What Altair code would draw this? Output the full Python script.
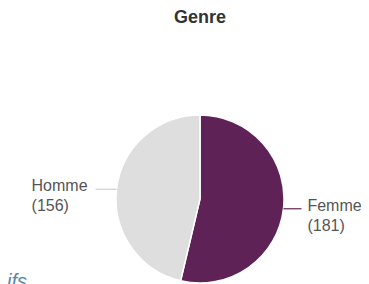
import math
import altair as alt
import pandas as pd

# ---- data ----
genres = ["Femme", "Homme"]
counts = [181, 156]
colors = ["#5e2256", "#dedede"]
line_colors = ["#5e2256", "#cfcfcf"]
title_text = "Genre"
fragment_text = "Effectifs"

# ---- layout ----
W, H = 353, 276
CX, CY, R = 192, 191, 84
EXT = {1: 18, -1: 21}   # leader line length per side
GAP = {1: 6, -1: 8}     # gap between line and text per side
TEXT_W = 56             # approx label width

total = sum(counts)
rows = []
cum = 0
for i, (g, c) in enumerate(zip(genres, counts)):
    mid = (cum + c / 2) / total * 2 * math.pi
    cum += c
    sx = CX + R * math.sin(mid)
    sy = CY - R * math.cos(mid)
    side = 1 if math.sin(mid) >= 0 else -1
    ex = sx + side * EXT[side]
    tx = ex + GAP[side] if side > 0 else ex - GAP[side] - TEXT_W
    rows.append(dict(genre=g, count=c, ord=i, sx=sx, sy=sy, ex=ex, ey=sy,
                     tx=tx, ty=sy + 2, ty2=sy + 22,
                     label=g, label2=f"({c})", lc=line_colors[i]))
df = pd.DataFrame(rows)

xs = alt.Scale(domain=[0, W], range=[0, W], nice=False, zero=False)
ys = alt.Scale(domain=[0, H], range=[0, H], nice=False, zero=False)

pie = alt.Chart(df).mark_arc(radius=R, stroke="white", strokeWidth=1.5).encode(
    theta=alt.Theta("count:Q", stack=True),
    order=alt.Order("ord:Q"),
    color=alt.Color("genre:N", scale=alt.Scale(domain=genres, range=colors), legend=None),
    x=alt.value(CX),
    y=alt.value(CY),
)

lines = alt.Chart(df).mark_rule(strokeWidth=1.2).encode(
    x=alt.X("sx:Q", scale=xs, axis=None),
    x2="ex:Q",
    y=alt.Y("sy:Q", scale=ys, axis=None),
    y2="ey:Q",
    color=alt.Color("lc:N", scale=None),
)

lab1 = alt.Chart(df).mark_text(align="left", baseline="alphabetic", fontSize=16,
                               font="Liberation Sans", color="#555555").encode(
    x=alt.X("tx:Q", scale=xs, axis=None),
    y=alt.Y("ty:Q", scale=ys, axis=None),
    text="label:N",
)
lab2 = alt.Chart(df).mark_text(align="left", baseline="alphabetic", fontSize=16,
                               font="Liberation Sans", color="#555555").encode(
    x=alt.X("tx:Q", scale=xs, axis=None),
    y=alt.Y("ty2:Q", scale=ys, axis=None),
    text="label2:N",
)

title_df = pd.DataFrame({"t": [title_text], "x": [CX], "y": [15]})
title = alt.Chart(title_df).mark_text(align="center", baseline="alphabetic", fontSize=18,
                                      fontWeight="bold", font="Liberation Sans",
                                      color="#333333").encode(
    x=alt.X("x:Q", scale=xs, axis=None),
    y=alt.Y("y:Q", scale=ys, axis=None),
    text="t:N",
)

frag_df = pd.DataFrame({"t": [fragment_text], "x": [19], "y": [280]})
frag = alt.Chart(frag_df).mark_text(align="right", baseline="alphabetic", fontSize=20,
                                    fontStyle="italic", font="Liberation Sans",
                                    color="#5a87a8").encode(
    x=alt.X("x:Q", scale=xs, axis=None),
    y=alt.Y("y:Q", scale=ys, axis=None),
    text="t:N",
)

chart = alt.layer(pie, lines, lab1, lab2, title, frag).properties(
    width=W, height=H, autosize=alt.AutoSizeParams(type="none"), padding=0,
    background="white",
).configure_view(stroke=None)

chart.save("out.html", embed_options={"renderer": "svg", "actions": False})
